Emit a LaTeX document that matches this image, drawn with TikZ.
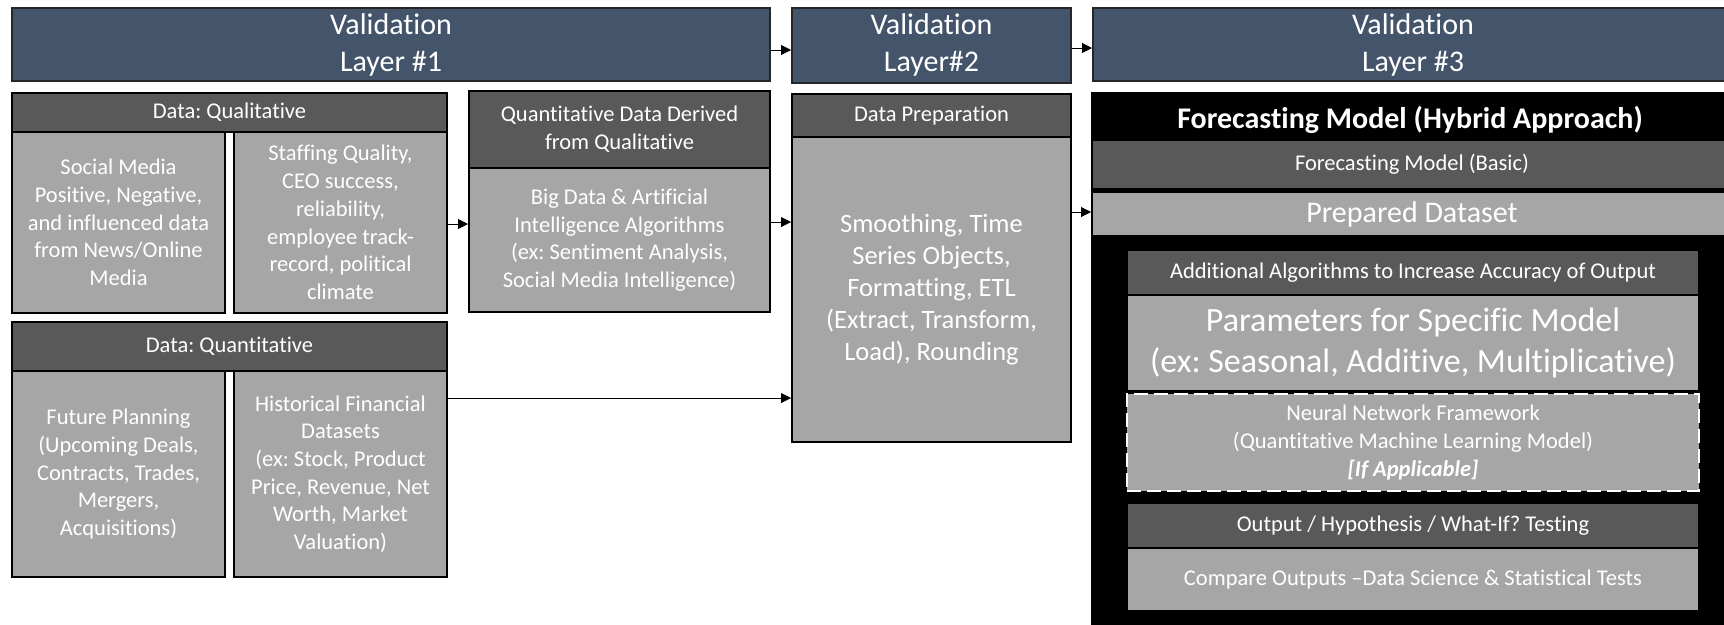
\documentclass[tikz,border=0pt]{standalone}
\usepackage{fontspec}
\setmainfont{Carlito}[Ligatures=NoCommon]
\usetikzlibrary{arrows.meta}
\frenchspacing

\definecolor{hblue}{HTML}{44546A}
\definecolor{dgray}{HTML}{595959}
\definecolor{lgray}{HTML}{A6A6A6}

\newcommand\hfont{\fontsize{30}{37}\selectfont}
\newcommand\bfont{\fontsize{22.5}{27.7}\selectfont}

\tikzset{
  box/.style={draw=black, line width=2pt, inner sep=2pt, align=center,
              text=white, anchor=north west, font=\bfont},
  hdr/.style={box, fill=hblue, draw=black!85, font=\hfont},
  dk/.style={box, fill=dgray},
  lt/.style={box, fill=lgray},
  arr/.style={-{Triangle[length=10pt,width=10pt]}, line width=1pt, black},
}

\begin{document}
\begin{tikzpicture}[x=1pt,y=-1pt]
  \clip (0,0) rectangle (1724,624);

  % Layer headers
  \node[hdr, minimum width=758pt, minimum height=73pt] (h1) at (11,7) {Validation\\Layer \#1};
  \node[hdr, minimum width=279pt, minimum height=75pt] (h2) at (791,7) {Validation\\Layer\#2};
  \node[hdr, minimum width=640pt, minimum height=73pt] (h3) at (1092,7) {Validation\\Layer \#3};

  % Layer 1: qualitative data
  \node[dk, minimum width=435pt, minimum height=39pt] (qualh) at (11,92) {Data: Qualitative};
  \node[lt, minimum width=213pt, minimum height=181pt] (social) at (11,131)
    {Social Media\\Positive, Negative,\\and influenced data\\from News/Online\\Media};
  \node[lt, minimum width=213pt, minimum height=181pt] (staff) at (233,131)
    {Staffing Quality,\\CEO success,\\reliability,\\employee track-\\record, political\\climate};

  % Layer 1: quantitative data
  \node[dk, minimum width=435pt, minimum height=49pt] (quanth) at (11,321) {Data: Quantitative};
  \node[lt, minimum width=213pt, minimum height=206pt] (future) at (11,370)
    {Future Planning\\(Upcoming Deals,\\Contracts, Trades,\\Mergers,\\Acquisitions)};
  \node[lt, minimum width=213pt, minimum height=206pt] (hist) at (233,370)
    {Historical Financial\\Datasets\\(ex: Stock, Product\\Price, Revenue, Net\\Worth, Market\\Valuation)};

  % Layer 1: derived data
  \node[dk, minimum width=301pt, minimum height=77pt] (derh) at (468,90)
    {Quantitative Data Derived\\from Qualitative};
  \node[lt, minimum width=301pt, minimum height=144pt] (bigdata) at (468,167)
    {Big Data \& Artificial\\Intelligence Algorithms\\(ex: Sentiment Analysis,\\Social Media Intelligence)};

  % Layer 2: preparation
  \node[dk, minimum width=279pt, minimum height=43pt] (preph) at (791,93) {Data Preparation};
  \node[lt, minimum width=279pt, minimum height=305pt, font=\fontsize{26.5}{32}\selectfont] (prep) at (791,136)
    {Smoothing, Time\\Series Objects,\\Formatting, ETL\\(Extract, Transform,\\Load), Rounding};

  % Layer 3: forecasting model
  \node[box, fill=black, minimum width=640pt, minimum height=540pt] (model) at (1091,92) {};
  \node[text=white, font=\fontsize{30}{36}\selectfont\bfseries] (hybrid) at (1410,120)
    {Forecasting Model (Hybrid Approach)};
  \node[dk, minimum width=640pt, minimum height=49pt] (basic) at (1091,139) {Forecasting Model (Basic)};
  \node[lt, minimum width=640pt, minimum height=44pt, font=\hfont] (dataset) at (1091,191) {Prepared Dataset};

  \node[dk, minimum width=572pt, minimum height=45pt] (addh) at (1126,249)
    {Additional Algorithms to Increase Accuracy of Output};
  \node[lt, minimum width=572pt, minimum height=96pt, font=\fontsize{34}{41.7}\selectfont] (params) at (1126,294)
    {Parameters for Specific Model\\(ex: Seasonal, Additive, Multiplicative)};
  \node[lt, draw=white, dash pattern=on 14pt off 6pt, minimum width=572pt, minimum height=97pt] (neural) at (1126,393)
    {Neural Network Framework\\(Quantitative Machine Learning Model)\\\textbf{\textit{[If Applicable]}}};
  \node[dk, minimum width=572pt, minimum height=45pt] (outh) at (1126,502)
    {Output / Hypothesis / What-If? Testing};
  \node[lt, minimum width=572pt, minimum height=63pt] (compare) at (1126,547)
    {Compare Outputs –Data Science \& Statistical Tests};

  % Flow between layers
  \draw[arr] (h1.east |- 0,50) -- (h2.west |- 0,50);
  \draw[arr] (h2.east |- 0,48) -- (h3.west |- 0,48);
  \draw[arr] (staff.east |- 0,224) -- (bigdata.west |- 0,224);
  \draw[arr] (bigdata.east |- 0,222) -- (prep.west |- 0,222);
  \draw[arr] (hist.east |- 0,398) -- (prep.west |- 0,398);
  \draw[arr] (prep.east |- 0,212) -- (model.west |- 0,212);
\end{tikzpicture}
\end{document}
